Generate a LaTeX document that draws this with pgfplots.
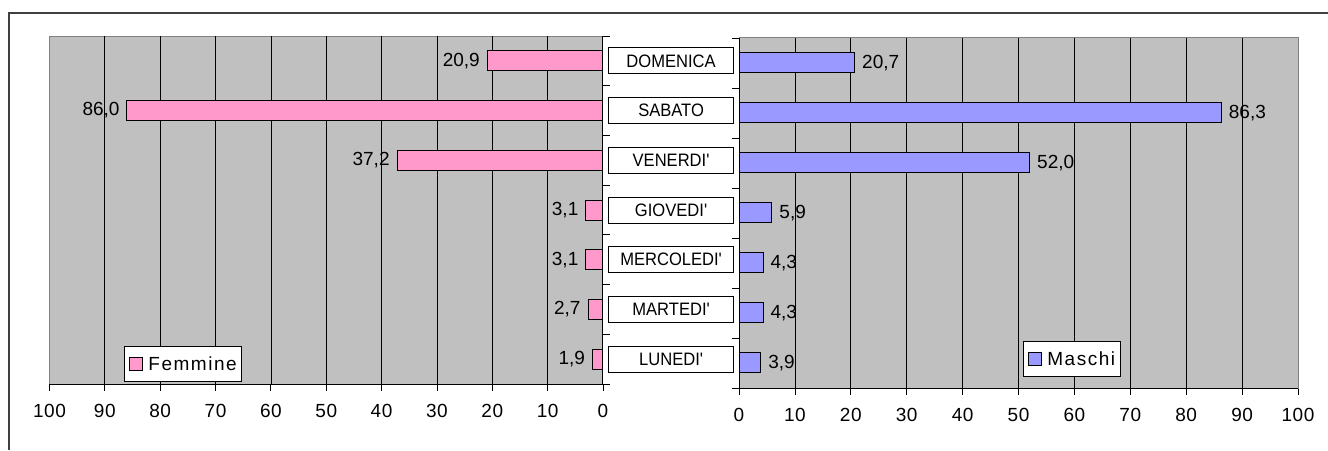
\documentclass[border=0pt]{standalone}
\usepackage{fontspec}
\setmainfont{Liberation Sans}[Ligatures=TeXOff]
\newfontfamily\condfont{Liberation Sans}[Ligatures=TeXOff, FakeStretch=0.92]
\usepackage{pgfplots}
\pgfplotsset{compat=1.18}
\definecolor{femm}{HTML}{FF99CC}
\definecolor{masc}{HTML}{9999FF}
\definecolor{bggray}{HTML}{C0C0C0}
\definecolor{edgegray}{HTML}{808080}
\definecolor{framec}{HTML}{404040}
\tikzset{lab/.style={draw=black, fill=white, line width=1pt, minimum width=125pt, minimum height=26pt, inner sep=0pt,
    font=\condfont\fontsize{18}{20}\selectfont}}
\pgfplotsset{
 common/.style={
  scale only axis, xmin=0, xmax=100, xtick={0,10,...,100},
  ymin=0.5, ymax=7.5, ytick={0.5,1.5,...,7.5}, yticklabels={},
  xbar, bar width=20pt,
  axis background/.style={fill=bggray},
  axis line style={edgegray, line width=1pt},
  tick style={black, line width=0.8pt},
  major tick length=7pt,
  tick align=outside,
  xtick pos=bottom,
  extra x ticks={10,20,...,90}, extra x tick labels={},
  extra x tick style={grid=major, major tick length=0pt},
  major grid style={black, line width=0.7pt},
  xticklabel style={font=\fontsize{19}{21}\selectfont\addfontfeature{LetterSpace=3}, /pgf/number format/assume math mode=true, yshift=-10pt},
  clip=false,
  point meta=x,
  nodes near coords={\pgfmathprintnumber[fixed,fixed zerofill,precision=1,use comma,assume math mode=true]{\pgfplotspointmeta}},
  nodes near coords style={font=\fontsize{19}{21}\selectfont, inner sep=0pt},
  legend style={draw=black, line width=0.8pt, fill=white, font=\fontsize{19}{21}\selectfont\addfontfeature{LetterSpace=8},
    inner xsep=3pt, inner ysep=8pt},
 },
}
\begin{document}
\begin{tikzpicture}[x=1pt,y=1pt]
\useasboundingbox (0,0) rectangle (1328,450);
\draw[framec, line width=2pt] (9,0) -- (9,437) -- (1328,437);
% Left: Femmine
\begin{axis}[common,
  at={(49.5pt,66pt)}, anchor=south west,
  width=553.5pt, height=348pt,
  x dir=reverse, ytick pos=right,
  every node near coord/.append style={anchor=east, xshift=-7pt},
  legend style={at={(0.1346,0.0057)}, anchor=south west},
]
\addplot[fill=femm, draw=black, line width=1pt,
  legend image code/.code={\draw[fill=femm,draw=black,line width=0.8pt] (2pt,-6.5pt) rectangle (15pt,6.5pt); \path[draw=none,fill=none] (0pt,0pt) -- (19pt,0pt);}]
  coordinates {(1.9,1) (2.7,2) (3.1,3) (3.1,4) (37.2,5) (86.0,6) (20.9,7)};
\addlegendentry{Femmine}
\draw[black, line width=1pt] (axis cs:100,0.5) -- (axis cs:0,0.5) -- (axis cs:0,7.5);
\node[lab] at (axis cs:-12.3,7) {DOMENICA};
\node[lab] at (axis cs:-12.3,6) {SABATO};
\node[lab] at (axis cs:-12.3,5) {VENERDI'};
\node[lab] at (axis cs:-12.3,4) {GIOVEDI'};
\node[lab] at (axis cs:-12.3,3) {MERCOLEDI'};
\node[lab] at (axis cs:-12.3,2) {MARTEDI'};
\node[lab] at (axis cs:-12.3,1) {LUNEDI'};
\end{axis}
% Right: Maschi
\begin{axis}[common,
  at={(739pt,62pt)}, anchor=south west,
  width=559pt, height=350pt,
  ytick pos=left,
  every node near coord/.append style={anchor=west, xshift=7pt},
  legend style={at={(0.508,0.031)}, anchor=south west},
]
\addplot[fill=masc, draw=black, line width=1pt,
  legend image code/.code={\draw[fill=masc,draw=black,line width=0.8pt] (2pt,-6.5pt) rectangle (15pt,6.5pt); \path[draw=none,fill=none] (0pt,0pt) -- (19pt,0pt);}]
  coordinates {(3.9,1) (4.3,2) (4.3,3) (5.9,4) (52.0,5) (86.3,6) (20.7,7)};
\addlegendentry{Maschi}
\draw[black, line width=1pt] (axis cs:100,0.5) -- (axis cs:0,0.5) -- (axis cs:0,7.5);
\end{axis}
\end{tikzpicture}
\end{document}
